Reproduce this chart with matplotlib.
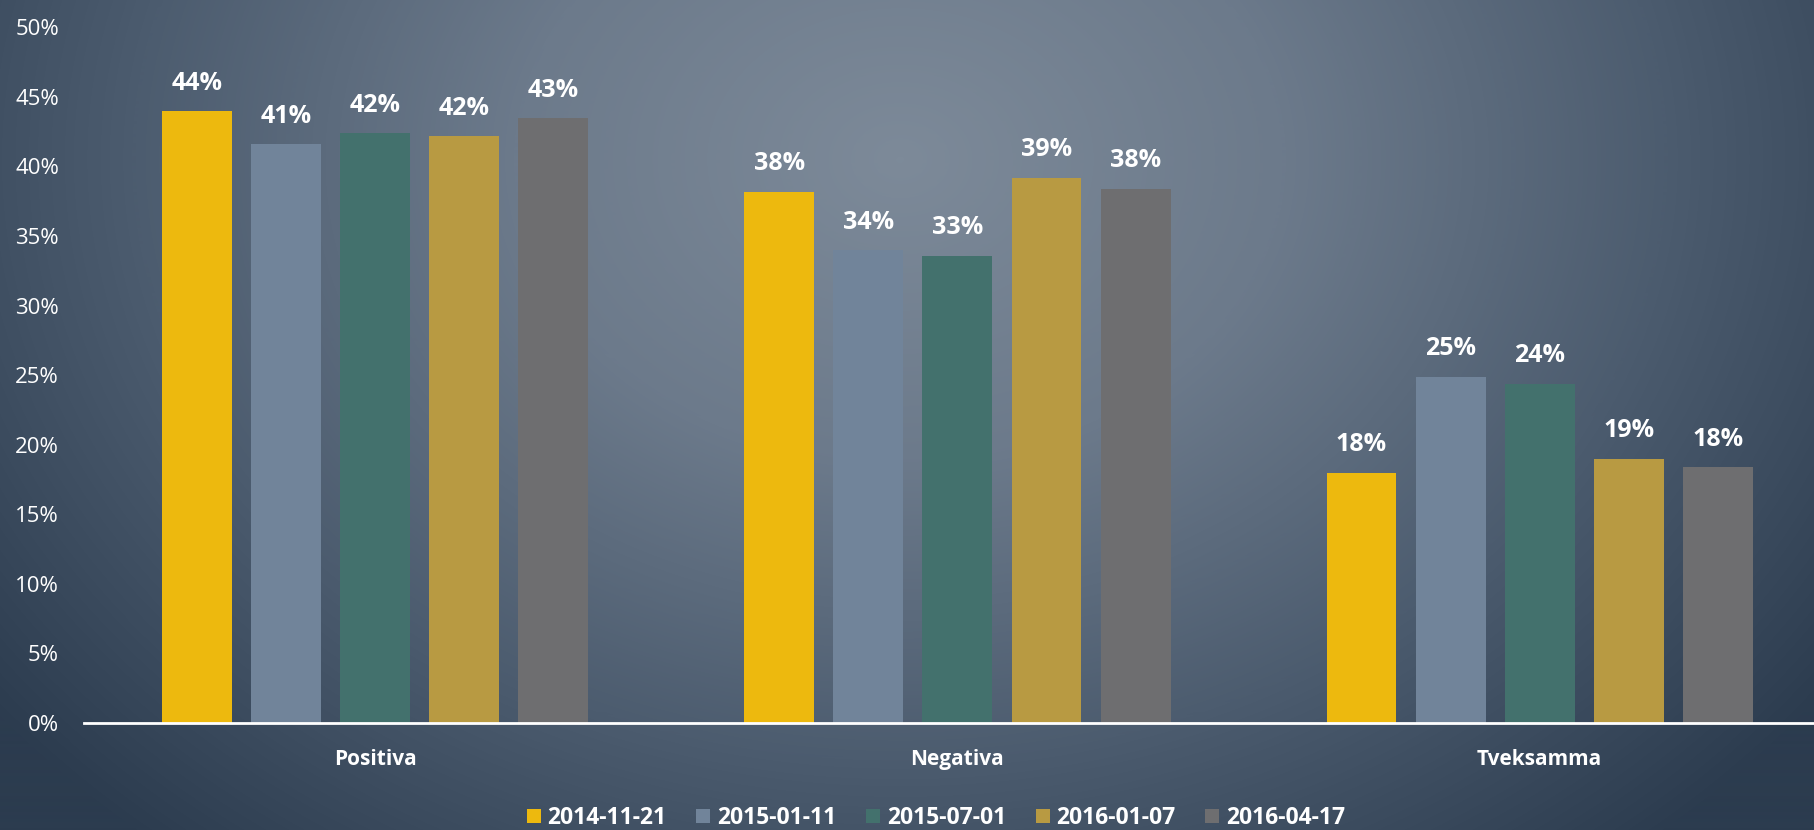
import numpy as np
import matplotlib.pyplot as plt
from matplotlib.colors import LinearSegmentedColormap
from matplotlib.ticker import MultipleLocator, FuncFormatter

categories = ["Positiva", "Negativa", "Tveksamma"]
series = ["2014-11-21", "2015-01-11", "2015-07-01", "2016-01-07", "2016-04-17"]
values = [
    [44.0, 38.2, 18.0],
    [41.6, 34.0, 24.9],
    [42.4, 33.6, 24.4],
    [42.2, 39.2, 19.0],
    [43.5, 38.4, 18.4],
]
labels = [
    ["44%", "38%", "18%"],
    ["41%", "34%", "25%"],
    ["42%", "33%", "24%"],
    ["42%", "39%", "19%"],
    ["43%", "38%", "18%"],
]
colors = ["#EDB90E", "#71849A", "#43716D", "#B89A42", "#6E6E70"]

plt.rcParams['font.family'] = ['Open Sans', 'DejaVu Sans']

fig = plt.figure(figsize=(18.14, 8.30), dpi=100)

# radial background
bg = fig.add_axes([0, 0, 1, 1])
yy, xx = np.mgrid[0:830, 0:1814]
cx, cy = 900, 160
d = np.sqrt(((xx - cx) / 1150.0) ** 2 + ((yy - cy) / 900.0) ** 2)
d = np.clip(d, 0, 1)
bgmap = LinearSegmentedColormap.from_list("bg", ["#7d8a99", "#6c7a8b", "#4c5c6f", "#2c3c4f"])
bg.imshow(d, cmap=bgmap, aspect="auto", vmin=0, vmax=1)
bg.axis("off")

ax = fig.add_axes([0.0463, 0.129, 0.963, 0.838])
ax.patch.set_alpha(0)

n = len(series)
width = 0.12
pitch = 0.153
x = np.arange(len(categories))
for i, (name, vals, labs, col) in enumerate(zip(series, values, labels, colors)):
    pos = x + (i - (n - 1) / 2) * pitch
    bars = ax.bar(pos, vals, width, color=col, label=name)
    for b, lab in zip(bars, labs):
        ax.annotate(lab, (b.get_x() + b.get_width() / 2, b.get_height()),
                    xytext=(0, 11), textcoords="offset points",
                    ha="center", va="bottom", color="white",
                    fontsize=18, fontweight="bold")

ax.set_xlim(-0.5, 2.5)
ax.set_ylim(0, 50)
ax.yaxis.set_major_locator(MultipleLocator(5))
ax.yaxis.set_major_formatter(FuncFormatter(lambda v, p: f"{v:.0f}%"))
ax.set_xticks(x)
ax.set_xticklabels(categories, fontweight="bold", fontsize=15)
ax.tick_params(axis="y", length=0, pad=18, labelsize=16, colors="white")
ax.tick_params(axis="x", length=0, pad=19, colors="white")
for s in ["top", "right", "left"]:
    ax.spines[s].set_visible(False)
ax.spines["bottom"].set_color("white")
ax.spines["bottom"].set_linewidth(2)

leg = fig.legend(loc="center", bbox_to_anchor=(0.516, 0.0145), ncol=5, frameon=False,
                 handlelength=0.6, handleheight=0.57, handletextpad=0.3, columnspacing=1.3,
                 prop={"weight": "bold", "size": 16.5})
for t in leg.get_texts():
    t.set_color("white")

fig.savefig("out.png", dpi=100)
